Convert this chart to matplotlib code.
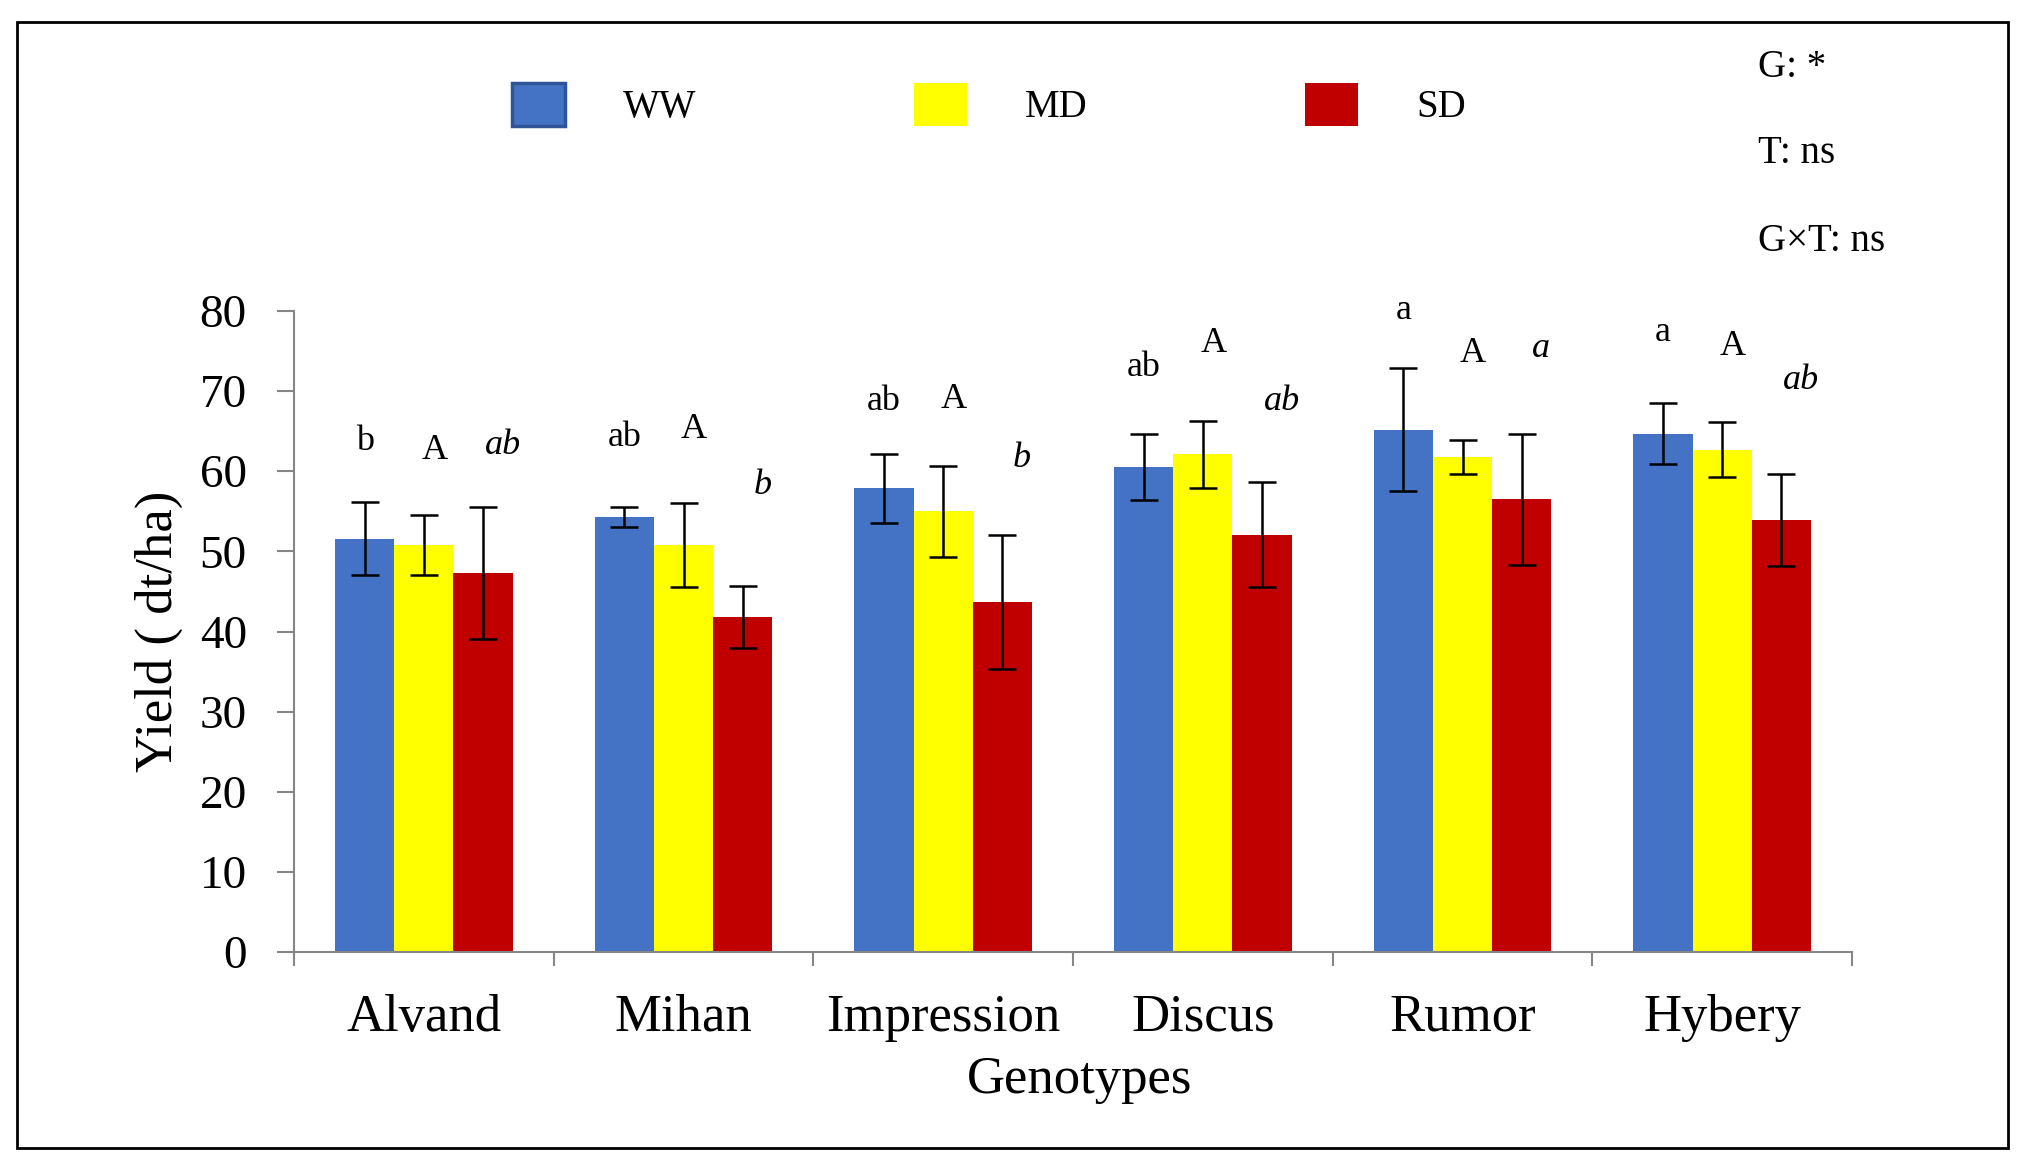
import numpy as np
import matplotlib.pyplot as plt
from matplotlib.patches import Rectangle

plt.rcParams['font.family'] = ['Liberation Serif', 'DejaVu Serif']

genotypes = ["Alvand", "Mihan", "Impression", "Discus", "Rumor", "Hybery"]
treatments = ["WW", "MD", "SD"]
colors = ["#4472C4", "#FFFF00", "#C00000"]

ww = [51.6, 54.3, 57.9, 60.5, 65.2, 64.7]
md = [50.8, 50.8, 55.0, 62.1, 61.8, 62.7]
sd = [47.3, 41.8, 43.7, 52.1, 56.5, 53.9]
ww_err = [4.6, 1.2, 4.3, 4.1, 7.7, 3.8]
md_err = [3.8, 5.2, 5.7, 4.2, 2.1, 3.4]
sd_err = [8.2, 3.9, 8.4, 6.6, 8.2, 5.7]

# significance letters and the height they sit at
ww_letters = ["b", "ab", "ab", "ab", "a", "a"]
md_letters = ["A", "A", "A", "A", "A", "A"]
sd_letters = ["ab", "b", "b", "ab", "a", "ab"]
ww_letter_y = [63.7, 64.2, 68.7, 72.9, 80.0, 77.3]
md_letter_y = [62.6, 65.2, 68.9, 76.0, 74.7, 75.6]
sd_letter_y = [63.2, 58.2, 61.6, 68.7, 75.3, 71.3]

fig = plt.figure(figsize=(20.25, 11.66), dpi=100)
ax = fig.add_axes([0.1452, 0.1835, 0.7694, 0.5498])

x = np.arange(len(genotypes))
width = 0.228
series = [ww, md, sd]
errs = [ww_err, md_err, sd_err]
for i in range(3):
    ax.bar(x + (i - 1) * width, series[i], width, color=colors[i],
           label=treatments[i], zorder=2)
    ax.errorbar(x + (i - 1) * width, series[i], yerr=errs[i], fmt='none',
                ecolor='black', elinewidth=1.8, capsize=10, capthick=1.8, zorder=3)

letters = [ww_letters, md_letters, sd_letters]
letter_y = [ww_letter_y, md_letter_y, sd_letter_y]
offsets = [0.0, 0.04, 0.075]
for i in range(3):
    for j in range(len(genotypes)):
        ax.text(x[j] + (i - 1) * width + offsets[i], letter_y[i][j], letters[i][j],
                ha='center', va='center', fontsize=26,
                style='italic' if i == 2 else 'normal', clip_on=False)

ax.set_xlim(-0.5, 5.5)
ax.set_ylim(0, 80)
ax.set_yticks(range(0, 81, 10))
ax.tick_params(axis='y', direction='out', length=12, width=1.5, color='#868686',
               labelsize=34, pad=22)
ax.set_xticks(np.arange(-0.5, 6, 1))
ax.set_xticklabels([])
ax.tick_params(axis='x', which='major', direction='out', length=10, width=1.5,
               color='#868686')
ax.set_xticks(x, minor=True)
ax.set_xticklabels(genotypes, minor=True)
ax.tick_params(axis='x', which='minor', length=0, labelsize=38, pad=30)

for s in ['top', 'right']:
    ax.spines[s].set_visible(False)
for s in ['left', 'bottom']:
    ax.spines[s].set_color('#868686')
    ax.spines[s].set_linewidth(1.5)

ax.set_ylabel("Yield ( dt/ha)", fontsize=38)
ax.yaxis.set_label_coords(-0.071, 0.5)
ax.set_xlabel("Genotypes", fontsize=38)
ax.xaxis.set_label_coords(0.5045, -0.162)

leg = ax.legend(loc='center', bbox_to_anchor=(0.446, 1.322), ncol=3, frameon=False,
                fontsize=28, handlelength=1.35, handleheight=1.35,
                handletextpad=1.5, columnspacing=5.6)
leg.legend_handles[0].set_edgecolor('#2F5597')
leg.legend_handles[0].set_linewidth(2.5)

fig.text(0.868, 0.942, "G: *", fontsize=28, va='center')
fig.text(0.868, 0.868, "T: ns", fontsize=28, va='center')
fig.text(0.868, 0.793, "G\u00d7T: ns", fontsize=28, va='center')

fig.patches.append(Rectangle((0.0084, 0.0154), 0.9832, 0.9657, transform=fig.transFigure,
                             fill=False, edgecolor='black', linewidth=2))

fig.savefig("out.png", dpi=100)
